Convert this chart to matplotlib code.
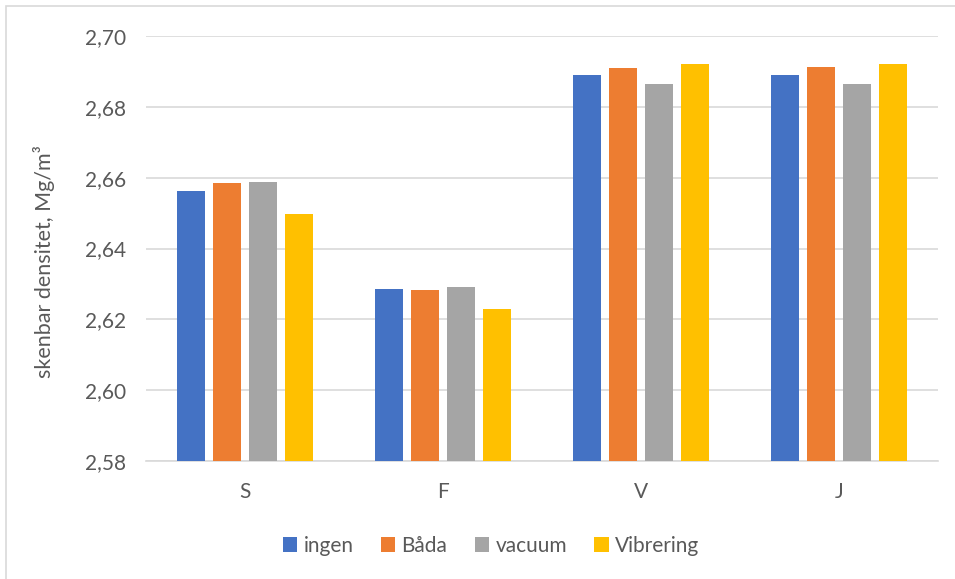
import numpy as np
import matplotlib
matplotlib.use('Agg')
from matplotlib import pyplot as plt
from matplotlib.patches import Rectangle
from matplotlib.ticker import FuncFormatter

plt.rcParams['font.family'] = ['Lato', 'DejaVu Sans']

categories = ['S', 'F', 'V', 'J']
series = ['ingen', 'Båda', 'vacuum', 'Vibrering']
ingen = [2.6562, 2.6285, 2.6890, 2.6890]
bada = [2.6585, 2.6282, 2.6911, 2.6912]
vacuum = [2.6589, 2.6290, 2.6864, 2.6864]
vibrering = [2.6498, 2.6228, 2.6921, 2.6921]
colors = ['#4472C4', '#ED7D31', '#A5A5A5', '#FFC000']

text_color = '#595959'
grid_color = '#D9D9D9'

fig = plt.figure(figsize=(9.55, 5.79), dpi=100)
ax = fig.add_axes([145.7 / 955, 1 - 461 / 579, 792 / 955, 425 / 579])

# chart border (screenshot is cropped on the right/bottom)
fig.patches.append(Rectangle((6 / 955, -0.1), 1.2, 1 - 6 / 579 + 0.1,
                             transform=fig.transFigure, fill=False,
                             edgecolor=grid_color, lw=1.2))

x = np.arange(len(categories))
width = 28 / 198
step = 36 / 198
for i, (name, vals) in enumerate(zip(series, [ingen, bada, vacuum, vibrering])):
    ax.bar(x + (i - 1.5) * step, np.array(vals) - 2.58, width=width, bottom=2.58,
           color=colors[i], label=name, zorder=3)

ax.set_xlim(-0.5, 3.5)
ax.set_ylim(2.58, 2.70)
ax.set_yticks(np.arange(2.58, 2.7001, 0.02))
ax.yaxis.set_major_formatter(FuncFormatter(lambda v, p: f'{v:.2f}'.replace('.', ',')))
ax.set_xticks(x)
ax.set_xticklabels(categories)

ax.grid(axis='y', color=grid_color, lw=1.2, zorder=0)
for s in ['top', 'right', 'left']:
    ax.spines[s].set_visible(False)
ax.spines['bottom'].set_color(grid_color)
ax.spines['bottom'].set_linewidth(1.2)
ax.tick_params(axis='both', length=0, labelsize=15, colors=text_color)
ax.tick_params(axis='y', pad=14)
ax.tick_params(axis='x', pad=15)

ax.set_ylabel('skenbar densitet, Mg/m³', fontsize=15.5, color=text_color)
ax.yaxis.set_label_coords(-0.115, 0.47)

leg = ax.legend(loc='center', bbox_to_anchor=(491 / 955, 1 - 546 / 579),
                bbox_transform=fig.transFigure, ncol=4, frameon=False,
                fontsize=15, handlelength=0.7, handleheight=0.7,
                handletextpad=0.3, columnspacing=1.3)
for t in leg.get_texts():
    t.set_color(text_color)

fig.savefig('out.png', dpi=100)
